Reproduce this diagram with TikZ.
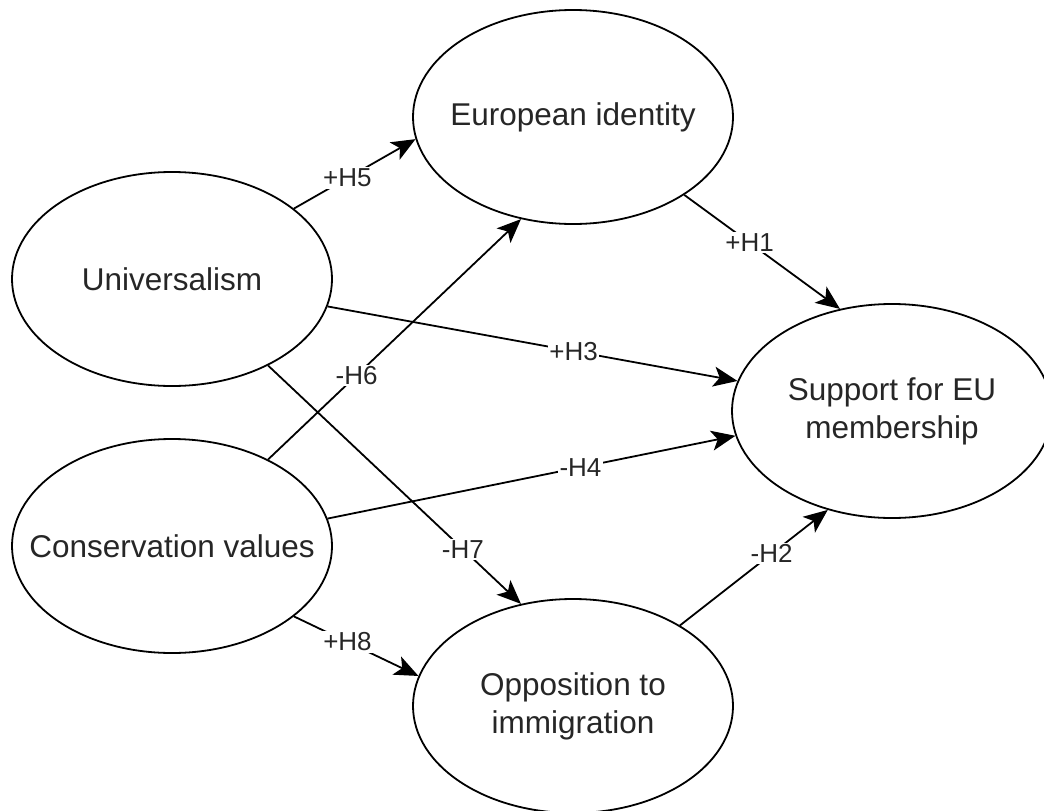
\documentclass[tikz,border=0pt]{standalone}
\usepackage{fontspec}
\setmainfont{Liberation Sans}
\usetikzlibrary{shapes.geometric,arrows.meta}
\begin{document}
\begin{tikzpicture}[x=1pt,y=-1pt,
  ell/.style={draw=black, line width=1.8pt, ellipse, minimum width=320pt, minimum height=214pt, inner sep=0pt},
  txt/.style={font=\fontsize{31.5}{38}\selectfont, align=center, text=black!85},
  conn/.style={draw=black, line width=1.8pt, -{Stealth[length=24pt,width=20pt,inset=6pt]}},
  lbl/.style={fill=white, inner sep=1.5pt, font=\fontsize{26}{30}\selectfont, text=black!85}]
\useasboundingbox (0,0) rectangle (1044,811);
\node[ell, label={[txt]center:European identity}] (eur) at (573,117) {};
\node[ell, label={[txt]center:Universalism}] (uni) at (172,279) {};
\node[ell, label={[txt]center:{Support for EU\\membership}}] (sup) at (892,411) {};
\node[ell, label={[txt]center:Conservation values}] (con) at (172,546) {};
\node[ell, label={[txt]center:{Opposition to\\immigration}}] (opp) at (573,706) {};
\draw[conn] (uni.30) -- node[lbl,pos=.44]{+H5} (eur.188);
\draw[conn] (eur.-35.5) -- node[lbl,pos=.42]{+H1} (sup.117);
\draw[conn] (uni.-10.9) -- node[lbl,pos=.6]{+H3} (sup.169.4);
\draw[conn] (con.42.5) -- node[lbl,pos=.35]{-H6} (eur.243);
\draw[conn] (con.10.2) -- node[lbl,pos=.62]{-H4} (sup.189.5);
\draw[conn] (uni.-42.2) -- node[lbl,pos=.77]{-H7} (opp.117);
\draw[conn] (opp.37.3) -- node[lbl,pos=.62]{-H2} (sup.237.2);
\draw[conn] (con.-30) -- node[lbl,pos=.43]{+H8} (opp.169.8);
\end{tikzpicture}
\end{document}
